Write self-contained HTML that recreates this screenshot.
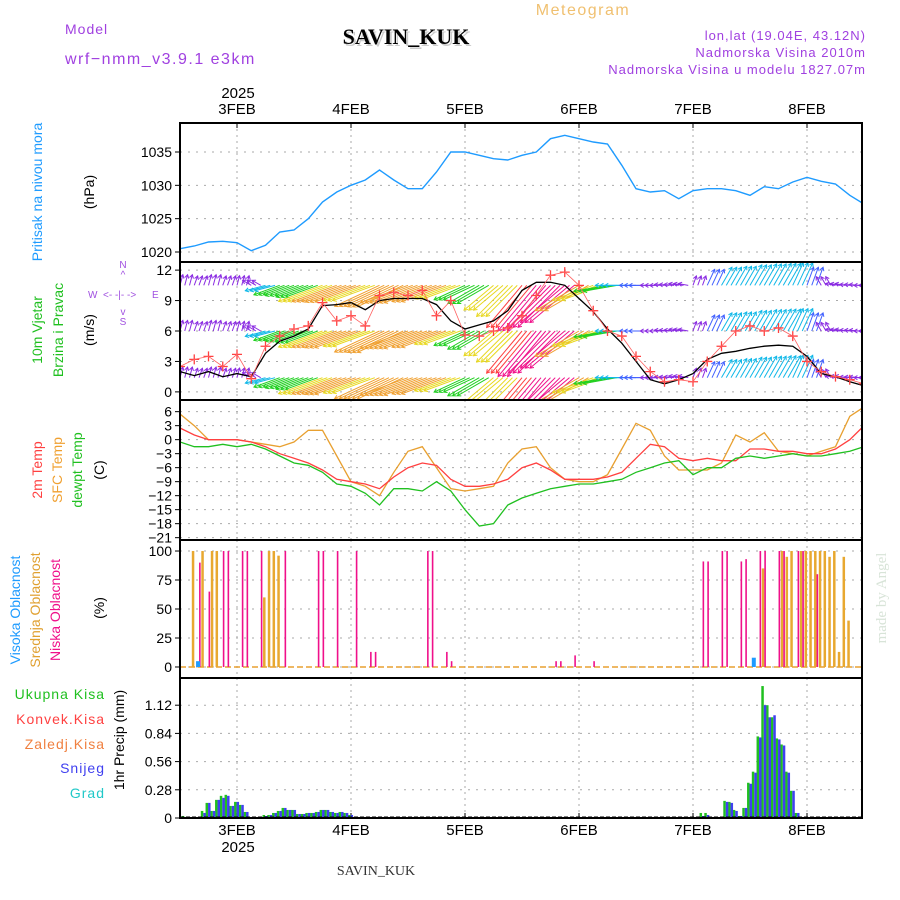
<!DOCTYPE html>
<html><head><meta charset="utf-8"><style>
body{margin:0;background:#fff}
svg{display:block;font-family:"Liberation Sans",sans-serif}
</style></head><body>
<svg id="c" width="900" height="900" viewBox="0 0 900 900">
<rect width="900" height="900" fill="#fff"/>
<g id="g"></g>
<g>
<text x="65" y="34" font-size="14" fill="#a040e0" letter-spacing="1">Model</text>
<text x="65" y="64" font-size="16" fill="#a040e0" letter-spacing="1.5">wrf−nmm_v3.9.1 e3km</text>
<text x="406" y="44" font-size="22" font-weight="bold" text-anchor="middle" fill="#ccc" font-family="Liberation Serif,serif" transform="translate(2,2)">SAVIN_KUK</text>
<text x="406" y="44" font-size="22" font-weight="bold" text-anchor="middle" fill="#000" font-family="Liberation Serif,serif">SAVIN_KUK</text>
<text x="583" y="15" font-size="16" fill="#f0c070" text-anchor="middle" letter-spacing="1.5">Meteogram</text>
<text x="866" y="40" font-size="13" fill="#a040e0" text-anchor="end" letter-spacing="1">lon,lat (19.04E, 43.12N)</text>
<text x="866" y="57" font-size="13" fill="#a040e0" text-anchor="end" letter-spacing="1">Nadmorska Visina 2010m</text>
<text x="866" y="74" font-size="13" fill="#a040e0" text-anchor="end" letter-spacing="1">Nadmorska Visina u modelu 1827.07m</text>
<text x="238" y="98" font-size="15" text-anchor="middle">2025</text>
<text x="238" y="852" font-size="15" text-anchor="middle">2025</text>
<text x="376" y="875" font-size="14" text-anchor="middle" font-family="Liberation Serif,serif" fill="#333">SAVIN_KUK</text>
<text transform="translate(886,598) rotate(-90)" font-size="15" text-anchor="middle" fill="#d8e4d8" font-family="Liberation Serif,serif">made by Angel</text>
</g>
<g font-size="14">
<text transform="translate(42,192) rotate(-90)" text-anchor="middle" fill="#1e9bff">Pritisak na nivou mora</text>
<text transform="translate(94,192) rotate(-90)" text-anchor="middle">(hPa)</text>
<text transform="translate(42,330) rotate(-90)" text-anchor="middle" fill="#20c020">10m Vjetar</text>
<text transform="translate(63,330) rotate(-90)" text-anchor="middle" fill="#20c020">Brzina i Pravac</text>
<text transform="translate(94,330) rotate(-90)" text-anchor="middle">(m/s)</text>
<g fill="#a050e0" font-size="10">
<text x="123" y="268" text-anchor="middle">N</text><text x="123" y="278" text-anchor="middle">^</text>
<text x="88" y="298" >W</text><text x="103" y="298">&lt;- -|- -&gt;</text><text x="152" y="298">E</text>
<text x="123" y="315" text-anchor="middle">v</text><text x="123" y="325" text-anchor="middle">S</text>
</g>
<text transform="translate(42,470) rotate(-90)" text-anchor="middle" fill="#ff4040">2m Temp</text>
<text transform="translate(62,470) rotate(-90)" text-anchor="middle" fill="#f0a030">SFC Temp</text>
<text transform="translate(82,470) rotate(-90)" text-anchor="middle" fill="#20c020">dewpt Temp</text>
<text transform="translate(104,470) rotate(-90)" text-anchor="middle">(C)</text>
<text transform="translate(20,610) rotate(-90)" text-anchor="middle" fill="#1e9bff">Visoka Oblacnost</text>
<text transform="translate(40,610) rotate(-90)" text-anchor="middle" fill="#e0a030">Srednja Oblacnost</text>
<text transform="translate(60,610) rotate(-90)" text-anchor="middle" fill="#f0108a">Niska Oblacnost</text>
<text transform="translate(104,608) rotate(-90)" text-anchor="middle">(%)</text>
<text x="105" y="699" text-anchor="end" fill="#20c020" letter-spacing="1">Ukupna  Kisa</text>
<text x="105" y="724" text-anchor="end" fill="#ff4040" letter-spacing="1">Konvek.Kisa</text>
<text x="105" y="749" text-anchor="end" fill="#f08040" letter-spacing="1">Zaledj.Kisa</text>
<text x="105" y="773" text-anchor="end" fill="#4040f0" letter-spacing="1">Snijeg</text>
<text x="105" y="798" text-anchor="end" fill="#20c8c8" letter-spacing="1">Grad</text>
<text transform="translate(124,740) rotate(-90)" text-anchor="middle">1hr Precip (mm)</text>
</g>
</svg>
<script>
// 3-hourly data from 2 Feb 12Z (index i -> hour 3*i)
const pressure=[1020.5,1020.9,1021.5,1021.6,1021.4,1020.2,1021,1023,1023.3,1025,1027.5,1029,1030,1030.8,1032.3,1030.8,1029.5,1029.5,1032,1035,1035,1034.5,1034,1033.8,1034.5,1035,1037,1037.5,1037,1036.5,1036.2,1033,1029.5,1029,1029.2,1028,1029.2,1029.5,1029.5,1029.2,1028.5,1029.8,1029.5,1030.5,1031.2,1030.6,1030.2,1028.5,1027.2];
const windSpeed=[2.0,1.6,2.0,1.5,1.8,1.5,3.8,5.0,5.5,6.2,8.5,8.6,8.8,8.1,9.0,9.2,9.2,9.2,8.6,7.0,6.2,6.6,7.0,8.0,10.0,10.8,10.8,10.5,9.2,7.9,6.2,4.8,3.0,1.2,0.8,1.2,1.8,3.2,3.8,4.0,4.3,4.5,4.6,4.5,3.5,1.8,1.5,1.0,0.6];
const windGust=[2.5,3.2,3.5,2.5,3.7,1.3,4.5,5.5,6.2,6.5,8.8,7.0,7.5,6.5,9.5,9.8,9.5,10.0,7.5,9.0,5.6,5.5,6.0,6.3,7.5,9.5,11.5,11.8,10.5,8.0,6.0,5.5,3.5,2.0,1.0,1.2,1.0,3.0,4.5,6.0,6.5,6.0,6.3,5.5,3.0,2.0,1.5,1.2,0.8];
const windDir=[195,200,195,200,195,120,75,70,70,70,70,70,70,70,65,65,70,70,70,70,65,60,50,45,40,40,45,50,60,70,80,90,90,90,95,100,200,205,210,210,210,210,210,205,200,150,100,95,90];
const temp2m=[2.5,1,0,0,0,-0.5,-1.5,-3,-4,-5,-6.5,-8.5,-9,-9.5,-10.5,-8,-6,-5,-5.5,-8.5,-10,-10,-9.5,-8.5,-6,-5,-6.5,-8.5,-8.5,-8.5,-8,-7,-4,-1,-1.5,-4,-4.5,-4,-4.5,-4.5,-2,-2,-2.5,-2.5,-3,-3,-2,0,3];
const tempSfc=[5.5,3,0,0,0,-0.5,-1,-1.5,-0.5,2,2,-3.5,-9,-10,-12,-7,-2.5,-1.5,-6,-10.5,-11,-10.5,-10,-5,-2,-1.5,-6,-8.5,-9,-9,-7.5,-2,3.5,2,-3.5,-6.5,-6.5,-6.5,-5,1,-0.5,1.5,-2.5,-3,-3.5,-2.5,-1.5,5,7];
const tempDew=[-0.5,-1.5,-1.5,-1,-1.5,-1,-2,-3.5,-5,-5.5,-7,-9.5,-10,-11.5,-14,-10.5,-10.5,-11,-9,-11,-15,-18.5,-18,-14,-12.5,-11.5,-10.5,-10,-9.5,-9.5,-9,-8.5,-7,-6,-5,-4.5,-7.5,-6,-6,-4,-3.5,-4,-3.5,-3,-3.5,-3.5,-3,-2.5,-1.5];
// hourly clouds (hour index, %)
const lowHours=[3,5,8,9,12,13,16,21,28,29,32,36,39,40,51,52,55,56,78,79,82,86,109,110,113,114,117,118,121,122,125,126,129,130,133];
const lowVals=[90,65,100,100,100,100,100,100,100,100,100,100,13,13,100,100,13,5,5,5,10,5,91,91,100,100,91,93,100,100,100,100,100,100,80];
const midHours=[2,4,6,7,17,18,19,20,122,126,127,128,130,131,132,133,134,135,136,137,138,139,140];
const midVals=[100,100,100,100,60,100,100,96,85,100,95,100,100,100,100,100,100,100,95,100,13,95,40];
const highHours=[3,120];
const highVals=[5,8];
// hourly precip
const precipHours=[0,4,5,6,7,8,9,10,11,12,13,14,17,18,19,20,21,22,23,24,25,26,27,28,29,30,31,32,33,34,35,109,110,111,113,114,115,116,117,118,119,120,121,122,123,124,125,126,127,128,129];
const precipTotal=[0.02,0.07,0.15,0.07,0.18,0.22,0.23,0.12,0.16,0.13,0.06,0.01,0.03,0.03,0.05,0.07,0.1,0.08,0.08,0.04,0.04,0.05,0.05,0.06,0.08,0.08,0.06,0.05,0.06,0.05,0.03,0.05,0.05,0.01,0.01,0.17,0.16,0.08,0.02,0.1,0.35,0.46,0.81,1.31,1.12,1.0,0.79,0.73,0.46,0.27,0.05];
const precipSnow=[0,0.05,0.15,0.07,0.18,0.2,0.22,0.12,0.16,0.13,0.06,0.01,0.02,0.03,0.05,0.07,0.1,0.08,0.08,0.04,0.04,0.05,0.05,0.06,0.08,0.08,0.06,0.05,0.06,0.05,0.03,0.02,0.03,0,0.01,0.16,0.15,0.07,0.02,0.1,0.34,0.45,0.8,1.12,1.0,1.02,0.78,0.72,0.45,0.27,0.05];
const dayLabels=["3FEB","4FEB","5FEB","6FEB","7FEB","8FEB"];
const pTicks=[1020,1025,1030,1035];
const wTicks=[0,3,6,9,12];
const tTicks=[6,3,0,-3,-6,-9,-12,-15,-18,-21];
const cTicks=[0,25,50,75,100];
const rTicks=[0,0.28,0.56,0.84,1.12];

const NS="http://www.w3.org/2000/svg";
const G=document.getElementById('g');
const X0=180,X1=862,PXH=4.75;
const xh=h=>X0+h*PXH;
const xi=i=>xh(3*i);
function mk(tag,at,parent){const e=document.createElementNS(NS,tag);for(const k in at)e.setAttribute(k,at[k]);(parent||G).appendChild(e);return e;}
const panels=[
 {t:123,b:262,lo:1018.5,hi:1039.35,ticks:pTicks,fmt:v=>v},
 {t:262,b:400,lo:-0.8,hi:12.8,ticks:wTicks,fmt:v=>v},
 {t:400,b:540,lo:-21.5,hi:8.5,ticks:tTicks,fmt:v=>v<0?'−'+(-v):v},
 {t:540,b:678,lo:-9.5,hi:109.5,ticks:cTicks,fmt:v=>v},
 {t:678,b:818,lo:0,hi:1.39,ticks:rTicks,fmt:v=>v}];
panels.forEach(p=>p.y=v=>p.b-(v-p.lo)/(p.hi-p.lo)*(p.b-p.t));
// grids & ticks
panels.forEach((p,k)=>{
 const gg=mk('g',{});
 
 
 p.ticks.forEach(v=>{const y=p.y(v);
  const l=mk('line',{x1:X0,x2:X1,y1:y,y2:y,stroke:'#aaa','stroke-dasharray':'2,6'},gg);
  
  mk('line',{x1:X0-5,x2:X0,y1:y,y2:y,stroke:'#000'},gg);
  const t=mk('text',{x:X0-8,y:y+5,'text-anchor':'end','font-size':14},gg);t.textContent=p.fmt(v);
  });
 dayLabels.forEach((d,j)=>{const x=xh(12+24*j);
  const l=mk('line',{x1:x,x2:x,y1:p.t,y2:p.b,stroke:'#aaa','stroke-dasharray':'2,4'},gg);
  });
});
dayLabels.forEach((d,j)=>{const x=xh(12+24*j);
 const a=mk('text',{x:x,y:114,'text-anchor':'middle','font-size':15});a.textContent=d;
 
 const b=mk('text',{x:x,y:835,'text-anchor':'middle','font-size':15});b.textContent=d;
 
 mk('line',{x1:x,x2:x,y1:123,y2:128,stroke:'#000'});mk('line',{x1:x,x2:x,y1:813,y2:818,stroke:'#000'});
});
const clip=mk('clipPath',{id:'cp'});mk('rect',{x:X0,y:262,width:X1-X0,height:138},clip);
const clipAll=mk('clipPath',{id:'ca'});mk('rect',{x:X0,y:123,width:X1-X0,height:695},clipAll);
function line(arr,p,col,name,w){const d=arr.map((v,i)=>(i?'L':'M')+xi(i).toFixed(1)+' '+p.y(v).toFixed(1)).join('');
 const e=mk('path',{d:d,fill:'none',stroke:col,'stroke-width':w||1.3,'clip-path':'url(#ca)'});
 return e;}
// pressure
line(pressure,panels[0],'#1e9bff','pressure-line',1.4);
// wind arrows
function spdCol(s){if(s<2.6)return'#8a2be2';if(s<3.6)return'#4060ff';if(s<5)return'#10b8e8';if(s<7)return'#20d020';if(s<8.6)return'#e8d820';if(s<9.6)return'#f0a030';if(s<10.4)return'#ff4040';return'#f0108a';}
const wg=mk('g',{'clip-path':'url(#cp)'});

const P2=panels[1];
[10.5,6,1.4].forEach(base=>{
 windSpeed.forEach((s,i)=>{
  const to=(windDir[i]+180)*Math.PI/180,L=Math.max(10,5.5*s);
  for(let k=0;k<3;k++){const x=xi(i)+k*PXH,y=P2.y(base);
   const x2=x+Math.sin(to)*L,y2=y-Math.cos(to)*L;
   const a=mk('line',{x1:x,y1:y,x2:x2,y2:y2,stroke:spdCol(s),'stroke-width':1},wg);
   
   const ang=Math.atan2(y2-y,x2-x);
   mk('path',{d:`M${x2+Math.cos(ang+2.6)*4} ${y2+Math.sin(ang+2.6)*4}L${x2} ${y2}L${x2+Math.cos(ang-2.6)*4} ${y2+Math.sin(ang-2.6)*4}`,fill:'none',stroke:spdCol(s)},wg);}
 });
});
line(windSpeed,P2,'#000','wind-speed-line',1.3);
windGust.forEach((v,i)=>{const x=xi(i),y=P2.y(v);
 const m=mk('path',{d:`M${x-5} ${y}H${x+5}M${x} ${y-5}V${y+5}`,stroke:'#ff4040','stroke-width':1.3,'clip-path':'url(#ca)'});
 });
line(windGust,P2,'#ff6060','gust-line',0.8);
// temps
line(tempSfc,panels[2],'#e8a030','sfc-temp-line');
line(temp2m,panels[2],'#ff4040','temp-2m-line');
line(tempDew,panels[2],'#20c020','dewpoint-line');
// clouds
const P4=panels[3];
mk('line',{x1:X0,x2:X1,y1:P4.y(0),y2:P4.y(0),stroke:'#e8a030','stroke-width':1.5,'stroke-dasharray':'6,3'});
function bars(hours,vals,p,col,off,w,name){hours.forEach((h,j)=>{const x=xh(h+0.8)+off;
 const r=mk('rect',{x:x,y:p.y(vals[j]),width:w,height:Math.max(0,p.y(0)-p.y(vals[j])),fill:col});
 });}
bars(midHours,midVals,P4,'#e8a830',-1.5,2.5,'mid-cloud-bar');
bars(lowHours,lowVals,P4,'#f0108a',1,1.6,'low-cloud-bar');
bars(highHours,highVals,P4,'#1e9bff',-2,4,'high-cloud-bar');
// precip
const P5=panels[4];
bars(precipHours,precipTotal,P5,'#20c020',-2,2.5,'total-precip-bar');
bars(precipHours,precipSnow,P5,'#4040f0',0.5,2.5,'snow-bar');
mk('line',{x1:X0,x2:X1,y1:817,y2:817,stroke:'#000','stroke-dasharray':'4,2'});
// frames
panels.forEach((p,k)=>{const r=mk('rect',{x:X0,y:p.t,width:X1-X0,height:p.b-p.t,fill:'none',stroke:'#000','stroke-width':2});
 });
</script>
</body></html>
